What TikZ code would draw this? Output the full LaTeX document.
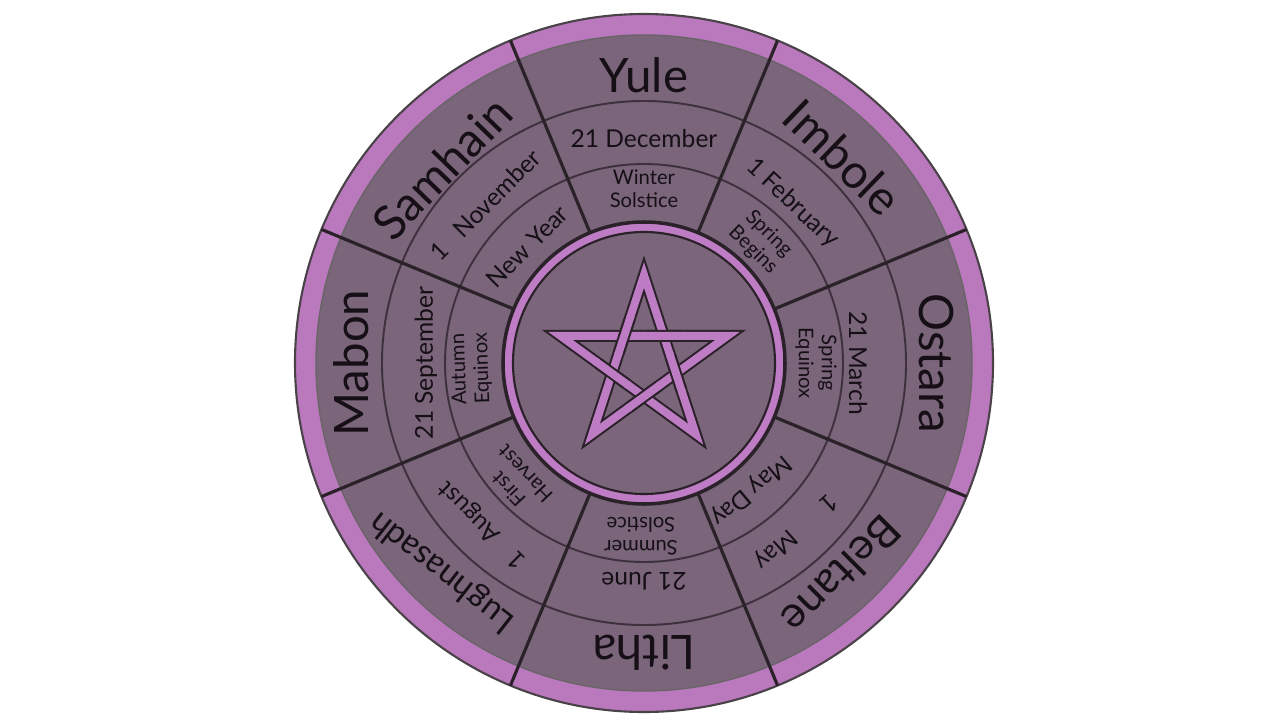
\documentclass[tikz,border=0pt]{standalone}
\usepackage{fontspec}
\setmainfont{Lato}
\usetikzlibrary{calc}
\definecolor{rim}{RGB}{186,121,189}
\definecolor{disk}{RGB}{122,101,122}
\definecolor{ink}{RGB}{22,15,22}
\definecolor{edge}{RGB}{42,33,41}
\definecolor{ringline}{RGB}{62,49,61}
\definecolor{starp}{RGB}{190,124,196}
\begin{document}
\begin{tikzpicture}[x=0.02cm,y=0.02cm,
  namet/.style={font=\fontsize{27}{29}\selectfont, text=ink, inner sep=0pt},
  datet/.style={font=\fontsize{14}{16}\selectfont, text=ink, inner sep=0pt},
  desct/.style={font=\fontsize{11.5}{13}\selectfont, text=ink, align=center, inner sep=0pt},
  spoke/.style={draw=edge, line width=1.8pt},
  ringc/.style={draw=ringline, line width=1.1pt},
  starblack/.style={draw=edge, line width=6.8pt},
  starpurple/.style={draw=starp, line width=4.5pt},
  ]
\useasboundingbox (-644,-357) rectangle (636,363);
\fill[white] (-644,-357) rectangle (636,363);
\coordinate (O) at (0,0);
% outer rim and disk
\filldraw[fill=rim, draw=edge!85, line width=1.2pt] (O) circle (349);
\filldraw[fill=disk, draw=edge!70, line width=0.8pt] (O) circle (328);
\draw[ringc] (O) circle (262);
\draw[ringc] (O) circle (199);
\foreach \a in {22.5,67.5,...,337.5} \draw[spoke] (\a:140) -- (\a:349);
% inner disc
\filldraw[fill=starp, draw=edge, line width=2pt] (O) circle (141);
\filldraw[fill=disk, draw=edge, line width=1.2pt] (O) circle (131);
% pentagram
\foreach \i/\a in {0/90,1/234,2/18,3/162,4/306} \coordinate (P\i) at (\a:88);
\draw[starblack, line join=miter, miter limit=10] (P0)--(P1)--(P2)--(P3)--(P4)--cycle;
\draw[starpurple, line join=miter, miter limit=10] (P0)--(P1)--(P2)--(P3)--(P4)--cycle;
\foreach \pa/\pb/\x in {P0/P1/126, P1/P2/270, P2/P3/54, P3/P4/198, P4/P0/342} {
  \coordinate (X) at (\x:33.6);
  \draw[starblack] ($(X)!0.36cm!(\pa)$) -- ($(X)!0.36cm!(\pb)$);
  \draw[starpurple] ($(X)!0.42cm!(\pa)$) -- ($(X)!0.42cm!(\pb)$);
}
% names
\node[namet] (yule) at (90:288) {Yule};
\node[namet, rotate=-44] (imbolc) at (46:286) {Imbole};
\node[namet, rotate=-90] (ostara) at (0:292) {Ostara};
\node[namet, rotate=-135, font=\fontsize{25}{27}\selectfont] (beltane) at (-47:290) {Beltane};
\node[namet, rotate=180] (litha) at (-90:290) {Litha};
\node[namet, rotate=142, font=\fontsize{19}{21}\selectfont] (lugh) at (226:290) {Lughnasadh};
\node[namet, rotate=90] (mabon) at (180:293) {Mabon};
\node[namet, rotate=46] (samhain) at (136:281) {Samhain};
% dates
\node[datet] (d1) at (90:224) {21 December};
\node[datet, rotate=-43] (d2) at (47:218) {1 February};
\node[datet, rotate=-90] (d3) at (0:214) {21 March};
\node[datet, rotate=-138] (d4) at (-48:226) {1\hspace{1.6em}May};
\node[datet, rotate=180] (d5) at (-90:218) {21 June};
\node[datet, rotate=135] (d6) at (225:228) {1\hspace{0.9em}August};
\node[datet, rotate=90] (d7) at (180:218) {21 September};
\node[datet, rotate=45] (d8) at (135:224) {1\hspace{0.7em}November};
% descriptions
\node[desct] (w1) at (90:174) {Winter\\Solstice};
\node[desct, rotate=-44] (w2) at (46:168) {Spring\\Begins};
\node[desct, rotate=-90] (w3) at (0:172) {Spring\\Equinox};
\node[datet, rotate=-140] (w4) at (-50:166) {May Day};
\node[desct, rotate=180] (w5) at (-91:173) {Summer\\Solstice};
\node[desct, rotate=133] (w6) at (223:174) {First\\Harvest};
\node[desct, rotate=92] (w7) at (182:173) {Autumn\\Equinox};
\node[datet, rotate=45] (w8) at (135:165) {New Year};
\end{tikzpicture}
\end{document}
